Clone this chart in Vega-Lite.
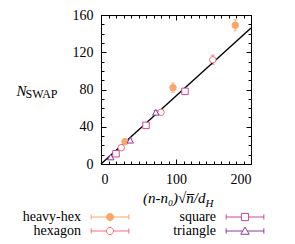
{
  "$schema": "https://vega.github.io/schema/vega-lite/v6.json",
  "width": 150,
  "height": 149,
  "autosize": "none",
  "padding": {"left": 101, "top": 15, "right": 44, "bottom": 80},
  "background": "white",
  "config": {
    "view": {"stroke": "black", "strokeWidth": 1},
    "font": "Liberation Serif",
    "text": {"font": "Liberation Serif"},
    "axis": {"grid": false, "domain": false, "tickColor": "black", "tickWidth": 1, "labelColor": "black", "labelFont": "Liberation Serif", "labelFontSize": 14, "titleColor": "black", "titleFont": "Liberation Serif", "titleFontWeight": "normal"},
    "legend": {"labelFont": "Liberation Serif", "labelFontSize": 14, "labelColor": "black"}
  },
  "datasets": {
    "pts": [
      {"series": "heavy-hex", "x": 179, "y": 149, "lo": 143, "hi": 155},
      {"series": "heavy-hex", "x": 96, "y": 82, "lo": 77, "hi": 87},
      {"series": "heavy-hex", "x": 32, "y": 24, "lo": 22, "hi": 26},
      {"series": "hexagon", "x": 149, "y": 112, "lo": 107, "hi": 117},
      {"series": "hexagon", "x": 80, "y": 55.5, "lo": 52.5, "hi": 58.5},
      {"series": "hexagon", "x": 27, "y": 17.5, "lo": 15.5, "hi": 19.5},
      {"series": "square", "x": 112, "y": 78, "lo": 75.5, "hi": 80.5},
      {"series": "square", "x": 60, "y": 41.5, "lo": 39.5, "hi": 43.5},
      {"series": "square", "x": 20, "y": 11, "lo": 9.5, "hi": 12.5},
      {"series": "triangle", "x": 73, "y": 55.5, "lo": 53.5, "hi": 57.5},
      {"series": "triangle", "x": 39, "y": 25.5, "lo": 24, "hi": 27},
      {"series": "triangle", "x": 13, "y": 7.5, "lo": 6.5, "hi": 8.5}
    ],
    "fit": [
      {"x": 0, "y": 0},
      {"x": 200, "y": 146}
    ]
  },
  "resolve": {
    "scale": {"color": "independent", "stroke": "independent", "fill": "independent", "shape": "independent"},
    "axis": {"x": "independent", "y": "independent"}
  },
  "layer": [
    {
      "data": {"name": "pts"},
      "mark": {"type": "rule", "strokeWidth": 1},
      "encoding": {
        "x": {"field": "x", "type": "quantitative", "scale": {"domain": [0, 200], "nice": false},
          "axis": {"orient": "bottom", "values": [0, 100, 200], "tickSize": -5, "labelPadding": 13, "title": "(n-n₀)√n̅/d", "titleFontStyle": "italic", "titleFontSize": 15, "titleAlign": "right", "titleAnchor": null, "titleX": 104, "titleY": 38, "titleBaseline": "alphabetic"}},
        "y": {"field": "lo", "type": "quantitative", "scale": {"domain": [0, 160], "nice": false},
          "axis": {"orient": "left", "values": [0, 40, 80, 120, 160], "tickSize": -5, "labelPadding": 13, "title": "N", "titleFontStyle": "italic", "titleFontSize": 15, "titleAngle": 0, "titleAlign": "left", "titleX": -85, "titleY": 80, "titleBaseline": "alphabetic"}},
        "y2": {"field": "hi"},
        "color": {"field": "series", "type": "nominal", "scale": {"domain": ["heavy-hex", "hexagon", "square", "triangle"], "range": ["#fba76c", "#f3707a", "#cc4a98", "#8c3a9e"]}, "legend": null}
      }
    },
    {
      "data": {"name": "pts"},
      "mark": {"type": "tick", "orient": "horizontal", "size": 4, "thickness": 1},
      "encoding": {
        "x": {"field": "x", "type": "quantitative", "scale": {"domain": [0, 200], "nice": false},
          "axis": {"orient": "top", "values": [0,10,20,30,40,50,60,70,80,90,100,110,120,130,140,150,160,170,180,190,200], "tickSize": -3, "labels": false, "title": null}},
        "y": {"field": "lo", "type": "quantitative", "scale": {"domain": [0, 160], "nice": false},
          "axis": {"orient": "right", "values": [0,10,20,30,40,50,60,70,80,90,100,110,120,130,140,150,160], "tickSize": -3, "labels": false, "title": null}},
        "color": {"field": "series", "type": "nominal", "scale": {"domain": ["heavy-hex", "hexagon", "square", "triangle"], "range": ["#fba76c", "#f3707a", "#cc4a98", "#8c3a9e"]}, "legend": null}
      }
    },
    {
      "data": {"name": "pts"},
      "mark": {"type": "tick", "orient": "horizontal", "size": 4, "thickness": 1},
      "encoding": {
        "x": {"field": "x", "type": "quantitative", "scale": {"domain": [0, 200], "nice": false},
          "axis": {"orient": "bottom", "values": [0,10,20,30,40,50,60,70,80,90,100,110,120,130,140,150,160,170,180,190,200], "tickSize": -3, "labels": false, "title": null}},
        "y": {"field": "hi", "type": "quantitative", "scale": {"domain": [0, 160], "nice": false},
          "axis": {"orient": "left", "values": [0,10,20,30,40,50,60,70,80,90,100,110,120,130,140,150,160], "tickSize": -3, "labels": false, "title": null}},
        "color": {"field": "series", "type": "nominal", "scale": {"domain": ["heavy-hex", "hexagon", "square", "triangle"], "range": ["#fba76c", "#f3707a", "#cc4a98", "#8c3a9e"]}, "legend": null}
      }
    },
    {
      "data": {"name": "fit"},
      "mark": {"type": "line", "color": "black", "strokeWidth": 1.4},
      "encoding": {
        "x": {"field": "x", "type": "quantitative", "scale": {"domain": [0, 200], "nice": false}, "axis": null},
        "y": {"field": "y", "type": "quantitative", "scale": {"domain": [0, 160], "nice": false}, "axis": null}
      }
    },
    {
      "data": {"name": "pts"},
      "mark": {"type": "point", "strokeWidth": 1, "opacity": 1},
      "encoding": {
        "x": {"field": "x", "type": "quantitative", "scale": {"domain": [0, 200], "nice": false},
          "axis": {"orient": "top", "values": [0, 100, 200], "tickSize": -5, "labels": false, "title": "H", "titleFontStyle": "italic", "titleFontSize": 11, "titleAlign": "left", "titleAnchor": null, "titleX": 104, "titleY": 191, "titleBaseline": "alphabetic"}},
        "y": {"field": "y", "type": "quantitative", "scale": {"domain": [0, 160], "nice": false},
          "axis": {"orient": "right", "values": [0, 40, 80, 120, 160], "tickSize": -5, "labels": false, "title": "SWAP", "titleFontSize": 12, "titleAngle": 0, "titleAlign": "left", "titleX": -226, "titleY": 82, "titleBaseline": "alphabetic"}},
        "stroke": {"field": "series", "type": "nominal", "scale": {"domain": ["heavy-hex", "hexagon", "square", "triangle"], "range": ["#fba76c", "#f3707a", "#cc4a98", "#8c3a9e"]}, "legend": null},
        "fill": {"field": "series", "type": "nominal", "scale": {"domain": ["heavy-hex", "hexagon", "square", "triangle"], "range": ["#fba76c", "white", "white", "white"]}, "legend": null},
        "shape": {"field": "series", "type": "nominal", "scale": {"domain": ["heavy-hex", "hexagon", "square", "triangle"], "range": ["circle", "circle", "square", "triangle-up"]}, "legend": null},
        "size": {"value": 42}
      }
    },
    {
      "data": {"values": []},
      "mark": {"type": "point", "strokeWidth": 1, "opacity": 1},
      "encoding": {
        "stroke": {"field": "series", "type": "nominal", "scale": {"domain": ["heavy-hex", "hexagon"], "range": ["#fba76c", "#f3707a"]}, "legend": {"title": null, "orient": "none", "legendX": 2, "legendY": 195, "symbolSize": 169, "labelAlign": "right", "labelOffset": -36, "rowPadding": 0, "symbolStrokeWidth": 1, "labelFont": "Liberation Serif"}},
        "fill": {"field": "series", "type": "nominal", "scale": {"domain": ["heavy-hex", "hexagon"], "range": ["#fba76c", "white"]}},
        "shape": {"field": "series", "type": "nominal", "scale": {"domain": ["heavy-hex", "hexagon"], "range": ["M-2.9,0H-0.55M0.55,0H2.9M-2.9,-0.4V0.4M2.9,-0.4V0.4M0.55,0A0.55,0.55,0,1,1,-0.55,0A0.55,0.55,0,1,1,0.55,0Z", "M-2.9,0H-0.55M0.55,0H2.9M-2.9,-0.4V0.4M2.9,-0.4V0.4M0.55,0A0.55,0.55,0,1,1,-0.55,0A0.55,0.55,0,1,1,0.55,0Z"]}}
      }
    },
    {
      "data": {"values": []},
      "mark": {"type": "point", "strokeWidth": 1, "opacity": 1},
      "encoding": {
        "stroke": {"field": "series", "type": "nominal", "scale": {"domain": ["square", "triangle"], "range": ["#cc4a98", "#8c3a9e"]}, "legend": {"title": null, "orient": "none", "legendX": 137, "legendY": 195, "symbolSize": 169, "labelAlign": "right", "labelOffset": -36, "rowPadding": 0, "symbolStrokeWidth": 1, "labelFont": "Liberation Serif"}},
        "fill": {"field": "series", "type": "nominal", "scale": {"domain": ["square", "triangle"], "range": ["white", "white"]}},
        "shape": {"field": "series", "type": "nominal", "scale": {"domain": ["square", "triangle"], "range": ["M-2.9,0H-0.55M0.55,0H2.9M-2.9,-0.4V0.4M2.9,-0.4V0.4M-0.55,-0.55H0.55V0.55H-0.55Z", "M-2.9,0H-0.36M0.36,0H2.9M-2.9,-0.4V0.4M2.9,-0.4V0.4M0,-0.6L0.65,0.5H-0.65Z"]}}
      }
    }
  ]
}
